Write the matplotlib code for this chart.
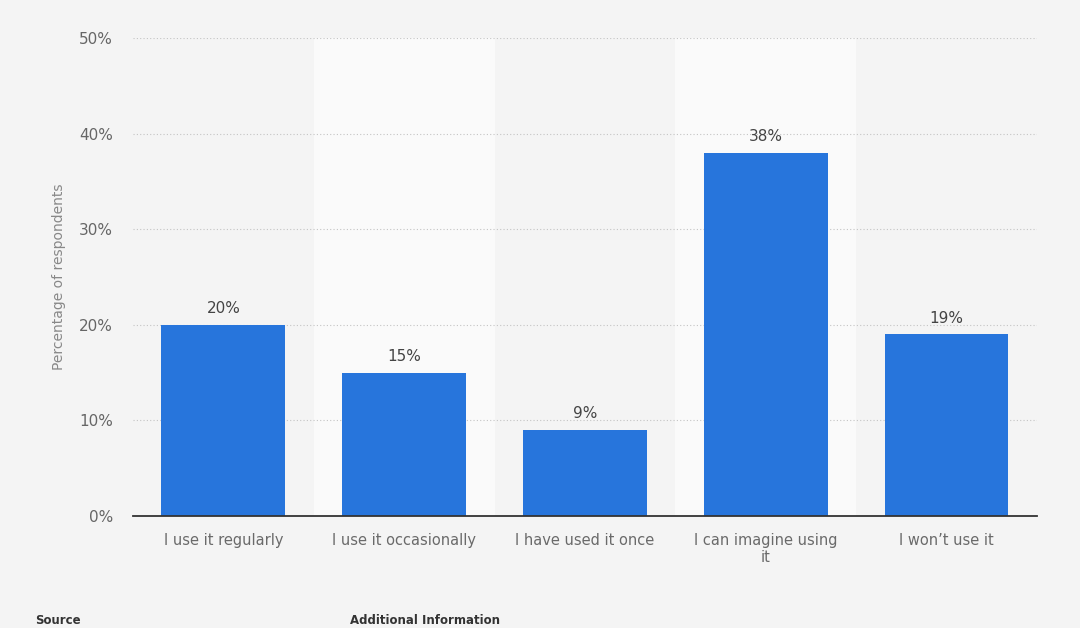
import matplotlib
matplotlib.use("Agg")
import matplotlib.pyplot as plt
from matplotlib.ticker import FuncFormatter

plt.rcParams["font.family"] = ["DejaVu Sans"]

categories = ["I use it regularly", "I use it occasionally", "I have used it once",
              "I can imagine using\nit", "I won’t use it"]
values = [20, 15, 9, 38, 19]
yticks = [0, 10, 20, 30, 40, 50]

fig = plt.figure(figsize=(10.8, 6.28), dpi=100, facecolor="#f4f4f4")
ax = fig.add_axes([0.1231, 0.1783, 0.8370, 0.7611])
ax.set_facecolor("#f4f4f4")

x = list(range(len(categories)))
for i in x:
    if i % 2 == 1:
        ax.axvspan(i - 0.5, i + 0.5, color="#fafafa", zorder=0, lw=0)

ax.bar(x, values, width=0.685, color="#2775dc", zorder=3)
for i, v in zip(x, values):
    ax.text(i, v + 0.9, f"{v}%", ha="center", va="bottom", fontsize=11, color="#444444", zorder=4)

ax.set_xlim(-0.5, len(categories) - 0.5)
ax.set_ylim(0, 50)
ax.set_yticks(yticks)
ax.yaxis.set_major_formatter(FuncFormatter(lambda v, p: f"{int(v)}%"))
ax.grid(axis="y", color="#c4c4c4", linestyle=(0, (1, 2)), linewidth=0.8, zorder=1)
ax.set_xticks(x)
ax.set_xticklabels(categories, fontsize=10.5, color="#6a6a6a", linespacing=1.1)
ax.tick_params(axis="y", length=0, labelsize=11, labelcolor="#666666", pad=14.5)
ax.tick_params(axis="x", length=0, pad=12.5)
for s in ["top", "right", "left"]:
    ax.spines[s].set_visible(False)
ax.spines["bottom"].set_color("#333333")
ax.spines["bottom"].set_linewidth(1.3)
ax.spines["bottom"].set_zorder(5)

ax.set_ylabel("Percentage of respondents", fontsize=10, color="#888888", labelpad=9)

fig.text(35 / 1080, 1 - 627 / 628, "Source", fontsize=8.5, color="#333333", va="bottom", fontweight="bold")
fig.text(350 / 1080, 1 - 627 / 628, "Additional Information", fontsize=8.5, color="#333333", va="bottom", fontweight="bold")

fig.savefig("out.png", dpi=100, facecolor=fig.get_facecolor())
